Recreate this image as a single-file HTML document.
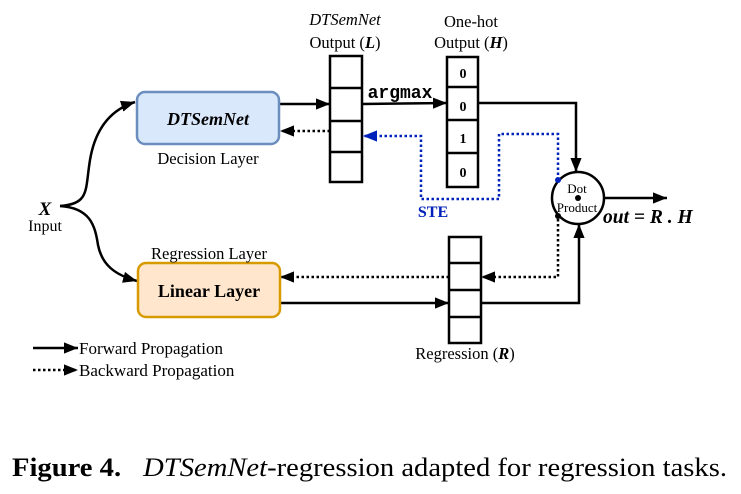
<!DOCTYPE html>
<html><head><meta charset="utf-8"><style>
html,body{margin:0;padding:0;background:#fff;}
svg{display:block;font-family:"Liberation Serif",serif;}
</style></head><body>
<svg width="741" height="494" viewBox="0 0 741 494" xmlns="http://www.w3.org/2000/svg">
<defs>
<marker id="b" viewBox="0 0 10 10" refX="10" refY="5" markerWidth="14" markerHeight="14" orient="auto" markerUnits="userSpaceOnUse"><path d="M0,1 L10,5 L0,9 z" fill="#000"/></marker>
<marker id="bb" viewBox="0 0 10 10" refX="10" refY="5" markerWidth="14" markerHeight="14" orient="auto" markerUnits="userSpaceOnUse"><path d="M0,1 L10,5 L0,9 z" fill="#0022bb"/></marker>
</defs>
<g fill="none" stroke="#000" stroke-width="2.5">
<path d="M60,206 C90,204 85,190 90,160 C95,130 110,110 135,102" marker-end="url(#b)"/>
<path d="M60,206 C90,208 95,225 98,245 C102,265 115,275 137,281" marker-end="url(#b)"/>
<rect x="330" y="56" width="32" height="126"/>
<line x1="330" y1="88" x2="362" y2="88"/><line x1="330" y1="121" x2="362" y2="121"/><line x1="330" y1="152" x2="362" y2="152"/>
<rect x="447" y="57" width="31" height="130"/>
<line x1="447" y1="87" x2="478" y2="87"/><line x1="447" y1="120" x2="478" y2="120"/><line x1="447" y1="153" x2="478" y2="153"/>
<rect x="449" y="237" width="32" height="106"/>
<line x1="449" y1="263" x2="481" y2="263"/><line x1="449" y1="290" x2="481" y2="290"/><line x1="449" y1="317" x2="481" y2="317"/>
<line x1="280" y1="104" x2="330" y2="104" marker-end="url(#b)"/>
<line x1="362" y1="104" x2="447" y2="103" marker-end="url(#b)"/>
<polyline points="478,103 576,103 576,172" marker-end="url(#b)"/>
<line x1="603" y1="198" x2="667" y2="198" marker-end="url(#b)"/>
<line x1="280" y1="303" x2="449" y2="303" marker-end="url(#b)"/>
<polyline points="481,303 579,303 579,224" marker-end="url(#b)"/>
<g stroke-dasharray="2.5,2.5">
<line x1="330" y1="131" x2="280" y2="131" marker-end="url(#b)"/>
<line x1="449" y1="277" x2="280" y2="277" marker-end="url(#b)"/>
<polyline points="558,214 558,277 481,277" marker-end="url(#b)"/>
<polyline stroke="#0022bb" points="558,180 558,134 499,134 499,199 421,199 421,136 363,136" marker-end="url(#bb)"/>
</g>
<circle cx="578" cy="198" r="26"/>
<line x1="33" y1="348" x2="78" y2="348" marker-end="url(#b)"/>
<line x1="33" y1="370" x2="78" y2="370" stroke-dasharray="2.5,2.5" marker-end="url(#b)"/>
</g>
<circle cx="578" cy="198" r="3" fill="#000"/>
<circle cx="558" cy="180" r="3" fill="#0022bb"/>
<circle cx="558" cy="216" r="3" fill="#000"/>
<rect x="137" y="92" width="142" height="52" rx="8" fill="#dae8fc" stroke="#6c8ebf" stroke-width="2.5"/>
<rect x="138" y="263" width="142" height="54" rx="8" fill="#ffe6cc" stroke="#d79b00" stroke-width="2.5"/>
<g text-anchor="middle" fill="#000">
<text x="208" y="125" font-weight="bold" font-style="italic" font-size="18">DTSemNet</text>
<text x="209" y="297" font-weight="bold" font-size="18">Linear Layer</text>
<text x="208" y="164" font-size="16.5">Decision Layer</text>
<text x="209" y="259" font-size="16.5">Regression Layer</text>
<text x="345" y="25" font-style="italic" font-size="16.5">DTSemNet</text>
<text x="345" y="48" font-size="16.5">Output (<tspan font-weight="bold" font-style="italic">L</tspan>)</text>
<text x="471" y="27" font-size="16.5">One-hot</text>
<text x="471" y="48" font-size="16.5">Output (<tspan font-weight="bold" font-style="italic">H</tspan>)</text>
<text x="463" y="78" font-weight="bold" font-size="14">0</text>
<text x="463" y="111" font-weight="bold" font-size="14">0</text>
<text x="463" y="143" font-weight="bold" font-size="14">1</text>
<text x="463" y="177" font-weight="bold" font-size="14">0</text>
<text x="400" y="98" font-family="Liberation Mono,monospace" font-weight="bold" font-size="18">argmax</text>
<text x="433" y="217" font-weight="bold" fill="#0022bb" font-size="16">STE</text>
<text x="577" y="193" font-size="13">Dot</text>
<text x="577" y="212" font-size="13">Product</text>
<text x="45" y="215" font-weight="bold" font-style="italic" font-size="19">X</text>
<text x="45" y="231" font-size="16">Input</text>
<text x="465" y="359" font-size="16.5">Regression (<tspan font-weight="bold" font-style="italic">R</tspan>)</text>
</g>
<text x="603" y="223" font-weight="bold" font-style="italic" font-size="19.5">out = R . H</text>
<g font-size="17">
<text x="79" y="354">Forward Propagation</text>
<text x="79" y="376">Backward Propagation</text>
</g>
<text x="12" y="476" font-size="26" textLength="715" lengthAdjust="spacingAndGlyphs"><tspan font-weight="bold">Figure 4.</tspan><tspan dx="20" font-style="italic">DTSemNet</tspan>-regression adapted for regression tasks.</text>
</svg>
</body></html>
